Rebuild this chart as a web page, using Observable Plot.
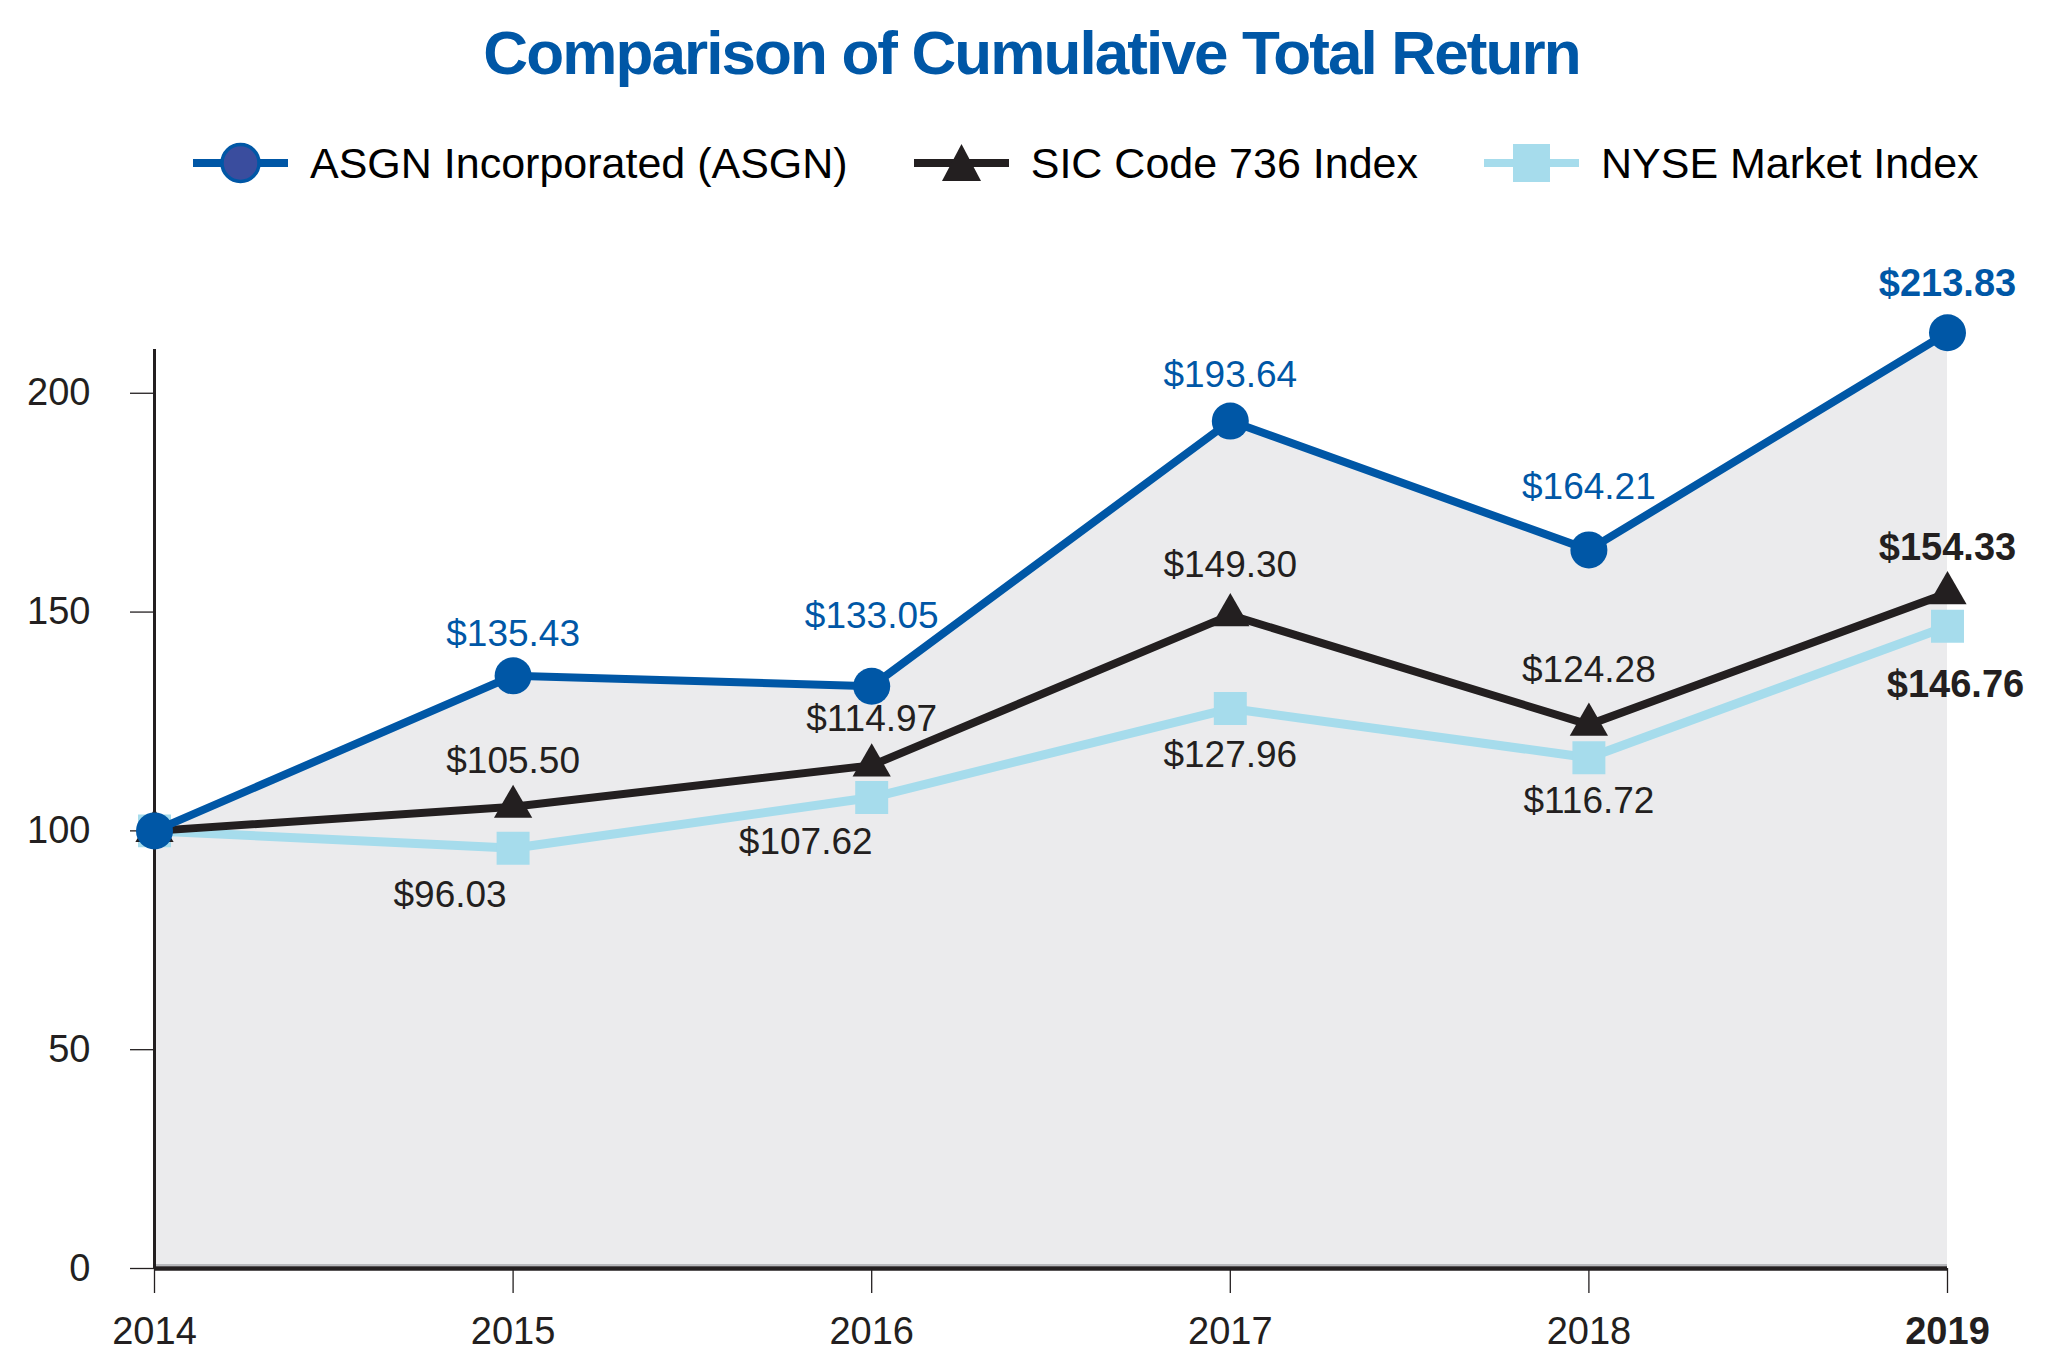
<!DOCTYPE html>
<html>
<head>
<meta charset="utf-8">
<script src="https://cdn.jsdelivr.net/npm/d3@7"></script>
<script src="https://cdn.jsdelivr.net/npm/@observablehq/plot@0.6"></script>
<style>
  html, body { margin: 0; padding: 0; background: #ffffff; }
  body { width: 2063px; height: 1363px; overflow: hidden; font-family: "Liberation Sans", Arial, Helvetica, sans-serif; }
  #title { height: 100px; line-height: 106px; text-align: center; color: #0057a6; font-weight: bold; font-size: 62px; letter-spacing: -1.9px; white-space: nowrap; }
  #legend { position: relative; height: 130px; }
  #legend .row { position: absolute; left: 193px; top: 42px; height: 42px; display: flex; align-items: center; }
  #legend .item { display: flex; align-items: center; margin-right: 66px; }
  #legend .item svg { margin-right: 22px; display: block; }
  #legend .item span { font-size: 43px; color: #000; white-space: nowrap; }
  #chart svg { display: block; }
</style>
</head>
<body>
<div id="title">Comparison of Cumulative Total Return</div>
<div id="legend"><div class="row"></div></div>
<div id="chart"></div>
<script>
// ---- data ----
const years = [2014, 2015, 2016, 2017, 2018, 2019];
const asgnValues = [100, 135.43, 133.05, 193.64, 164.21, 213.83];
const sicValues = [100, 105.50, 114.97, 149.30, 124.28, 154.33];
const nyseValues = [100, 96.03, 107.62, 127.96, 116.72, 146.76];
const seriesNames = ["ASGN Incorporated (ASGN)", "SIC Code 736 Index", "NYSE Market Index"];
const yTicks = [0, 50, 100, 150, 200];

// ---- layout tweaks (label nudges in px, per series, per year 2015..2019) ----
const labelNudges = {
  asgn: [[0, -42], [0, -70], [0, -46], [0, -63], [0, -49]],
  sic:  [[0, -46], [0, -46], [0, -50], [0, -54], [0, -45]],
  nyse: [[-63, 47], [-66, 45], [0, 47], [0, 43], [8, 59]]
};

const BLUE = "#0057a6", BLACK = "#231f20", LIGHT = "#a6dcec", AREA = "#ebebed";
const FONT = '"Liberation Sans", Arial, Helvetica, sans-serif';

const rows = (vals) => years.map((y, i) => ({year: y, value: vals[i]}));
const asgnRows = rows(asgnValues), sicRows = rows(sicValues), nyseRows = rows(nyseValues);

// ---- legend ----
const legendRow = document.querySelector("#legend .row");
const swatches = [
  `<line x1="0" x2="95" y1="21" y2="21" stroke="${BLUE}" stroke-width="8"/><circle cx="47.5" cy="21" r="18.5" fill="#3a4d9e" stroke="${BLUE}" stroke-width="3.5"/>`,
  `<line x1="0" x2="95" y1="21" y2="21" stroke="${BLACK}" stroke-width="8"/><path d="M47.5,2 L67,39 L28,39 Z" fill="${BLACK}"/>`,
  `<line x1="0" x2="95" y1="21" y2="21" stroke="${LIGHT}" stroke-width="8"/><rect x="29" y="2" width="37" height="38" fill="${LIGHT}"/>`
];
seriesNames.forEach((name, i) => {
  const item = document.createElement("div");
  item.className = "item";
  item.innerHTML = `<svg width="95" height="42" viewBox="0 0 95 42">${swatches[i]}</svg><span>${name}</span>`;
  legendRow.appendChild(item);
});

// ---- labels ----
function labelMarks(rowsArr, nudges, color) {
  const marks = [];
  rowsArr.slice(1).forEach((r, i) => {
    const last = r.year === 2019;
    marks.push(Plot.text([r], {
      x: "year", y: "value",
      text: d => "$" + d.value.toFixed(2),
      dx: nudges[i][0], dy: nudges[i][1],
      fill: color,
      fontSize: last ? 38 : 37,
      fontWeight: last ? "bold" : "normal",
      textAnchor: "middle"
    }));
  });
  return marks;
}

const plot = Plot.plot({
  width: 2063,
  height: 1133,
  marginLeft: 154,
  marginRight: 116,
  marginTop: 119,
  marginBottom: 95,
  x: {domain: [2014, 2019]},
  y: {domain: [0, 210]},
  style: {fontFamily: FONT, fontSize: "38px", color: BLACK, background: "transparent", overflow: "visible"},
  marks: [
    Plot.areaY(asgnRows, {x: "year", y: "value", fill: AREA}),
    Plot.ruleY([0], {stroke: "#a7a9ac", strokeWidth: 1.5, dy: -3.5}),
    Plot.ruleY([0], {stroke: BLACK, strokeWidth: 4.5}),
    Plot.ruleX([2014], {y1: 0, y2: 210, stroke: BLACK, strokeWidth: 3}),
    Plot.axisX({ticks: years, tickSize: 25, tickPadding: 24, tickFormat: d => String(d), fill: BLACK, stroke: BLACK, strokeWidth: 1.3, label: null}),
    Plot.axisY({ticks: yTicks, tickSize: 24, tickPadding: 40, fill: BLACK, stroke: BLACK, strokeWidth: 1.3, label: null}),
    Plot.line(nyseRows, {x: "year", y: "value", stroke: LIGHT, strokeWidth: 9}),
    Plot.dot(nyseRows, {x: "year", y: "value", symbol: "square", r: 18.6, fill: LIGHT}),
    Plot.line(sicRows, {x: "year", y: "value", stroke: BLACK, strokeWidth: 8}),
    Plot.dot(sicRows, {x: "year", y: "value", symbol: "triangle", r: 14.2, fill: BLACK}),
    Plot.line(asgnRows, {x: "year", y: "value", stroke: BLUE, strokeWidth: 8}),
    Plot.dot(asgnRows, {x: "year", y: "value", symbol: "circle", r: 18.5, fill: BLUE}),
    ...labelMarks(asgnRows, labelNudges.asgn, BLUE),
    ...labelMarks(sicRows, labelNudges.sic, BLACK),
    ...labelMarks(nyseRows, labelNudges.nyse, BLACK)
  ]
});
document.getElementById("chart").appendChild(plot);

d3.select(plot).selectAll("text").filter(function () { return this.textContent === "2019"; })
  .attr("font-weight", "bold");
</script>
</body>
</html>
